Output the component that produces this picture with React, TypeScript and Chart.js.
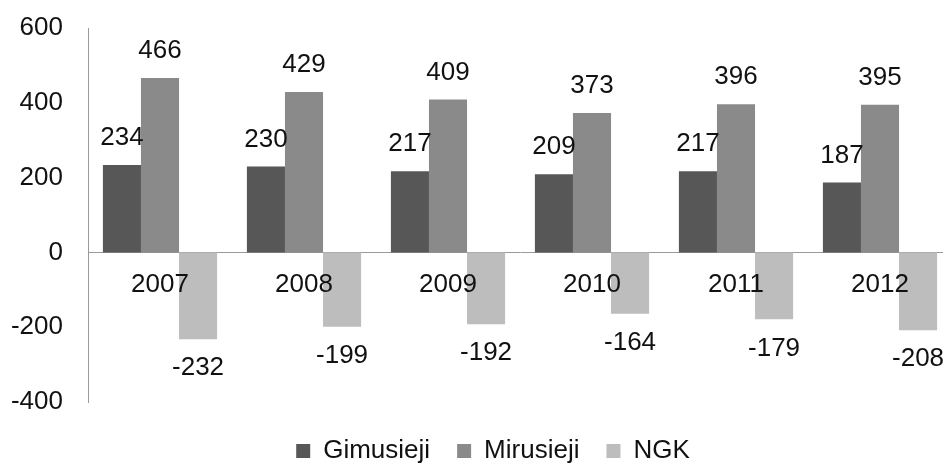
import React, { useEffect, useRef } from "react";
import { Chart, registerables } from "chart.js";

Chart.register(...registerables);

const categories = ["2007", "2008", "2009", "2010", "2011", "2012"];
const gimusieji = [234, 230, 217, 209, 217, 187];
const mirusieji = [466, 429, 409, 373, 396, 395];
const ngk = [-232, -199, -192, -164, -179, -208];
const seriesNames = ["Gimusieji", "Mirusieji", "NGK"];
const yTicks = [-400, -200, 0, 200, 400, 600];

const FONT = "'Liberation Sans', Arial, sans-serif";
const TEXT = "#111111";

const dataLabels = {
  id: "dataLabels",
  afterDatasetsDraw(chart: any) {
    const ctx = chart.ctx;
    ctx.save();
    ctx.font = `26px ${FONT}`;
    ctx.fillStyle = TEXT;
    ctx.textAlign = "center";
    ctx.textBaseline = "middle";
    chart.data.datasets.forEach((ds: any, di: number) => {
      const meta = chart.getDatasetMeta(di);
      meta.data.forEach((el: any, i: number) => {
        const v = ds.data[i];
        const y = v >= 0 ? el.y - 27 : el.y + 29;
        ctx.fillText(String(v), el.x, y);
      });
    });
    ctx.restore();
  },
};

export default function App() {
  const ref = useRef<HTMLCanvasElement>(null);
  useEffect(() => {
    if (!ref.current) return;
    const legendPad = 27;
    const chart = new Chart(ref.current, {
      type: "bar",
      data: {
        labels: categories,
        datasets: [
          { label: seriesNames[0], data: gimusieji, backgroundColor: "#575757", yAxisID: "y" },
          { label: seriesNames[1], data: mirusieji, backgroundColor: "#8a8a8a", yAxisID: "y" },
          { label: seriesNames[2], data: ngk, backgroundColor: "#bdbdbd", yAxisID: "y" },
        ],
      },
      options: {
        animation: false,
        responsive: false,
        devicePixelRatio: 1,
        layout: { padding: { left: 0, right: 4, top: 28, bottom: 6 } },
        datasets: { bar: { categoryPercentage: 0.793, barPercentage: 1.0 } } as any,
        scales: {
          x: {
            position: { y: 0 } as any,
            grid: { display: false, drawTicks: false },
            border: { display: true, color: "#9a9a9a", width: 1 },
            ticks: { z: 1, color: TEXT, font: { family: FONT, size: 26 }, padding: 17, maxRotation: 0, autoSkip: false } as any,
          },
          y: {
            min: -400,
            max: 600,
            afterFit: (s: any) => { s.width = 88; s.paddingTop = 0; s.paddingBottom = 0; },
            afterBuildTicks: (s: any) => { s.ticks = yTicks.map((v) => ({ value: v })); },
            grid: { display: false, drawTicks: false },
            border: { display: true, color: "#9a9a9a", width: 1 },
            ticks: { color: TEXT, font: { family: FONT, size: 26 }, padding: 25 },
          },
          spacer: {
            type: "linear",
            position: "right",
            min: 0,
            max: 1,
            afterFit: (s: any) => { s.width = 34; s.paddingTop = 0; s.paddingBottom = 0; },
            grid: { display: false, drawTicks: false },
            border: { display: false },
            ticks: { display: false },
          },
        },
        plugins: {
          legend: {
            position: "bottom",
            title: { display: true, text: "", font: { size: 9, lineHeight: 1 }, padding: { top: 0, bottom: 0 } },
            labels: {
              color: TEXT,
              font: { family: FONT, size: 26 },
              boxWidth: 14,
              boxHeight: 14,
              padding: legendPad,
            },
          },
          tooltip: { enabled: false },
        },
      },
      plugins: [dataLabels],
    });
    return () => chart.destroy();
  }, []);
  return (
    <div style={{ position: "fixed", left: 0, top: 0, width: 943, height: 465, overflow: "hidden", background: "#fff" }}>
      <canvas ref={ref} width={990} height={480} style={{ width: 990, height: 480, display: "block" }} />
    </div>
  );
}
